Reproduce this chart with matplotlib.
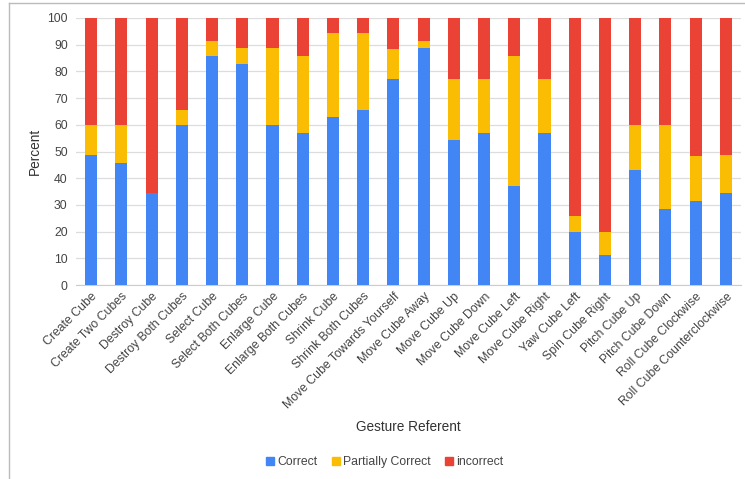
import matplotlib
matplotlib.use("Agg")
import matplotlib.pyplot as plt
import numpy as np
from matplotlib.lines import Line2D
from matplotlib.patches import Patch

categories = ["Create Cube", "Create Two Cubes", "Destroy Cube", "Destroy Both Cubes",
              "Select Cube", "Select Both Cubes", "Enlarge Cube", "Enlarge Both Cubes",
              "Shrink Cube", "Shrink Both Cubes", "Move Cube Towards Yourself",
              "Move Cube Away", "Move Cube Up", "Move Cube Down", "Move Cube Left",
              "Move Cube Right", "Yaw Cube Left", "Spin Cube Right", "Pitch Cube Up",
              "Pitch Cube Down", "Roll Cube Clockwise", "Roll Cube Counterclockwise"]
correct = [48.6, 45.7, 34.3, 60.0, 85.7, 82.9, 60.0, 57.1, 62.9, 65.7, 77.1,
           88.6, 54.3, 57.1, 37.1, 57.1, 20.0, 11.4, 42.9, 28.6, 31.4, 34.3]
partial = [11.4, 14.3, 0.0, 5.7, 5.7, 5.7, 28.6, 28.6, 31.4, 28.6, 11.4,
           2.9, 22.9, 20.0, 48.6, 20.0, 5.7, 8.6, 17.1, 31.4, 17.1, 14.3]
incorrect = [40.0, 40.0, 65.7, 34.3, 8.6, 11.4, 11.4, 14.3, 5.7, 5.7, 11.5,
             8.5, 22.8, 22.9, 14.3, 22.9, 74.3, 80.0, 40.0, 40.0, 51.5, 51.4]
series_names = ["Correct", "Partially Correct", "incorrect"]
yticks = [0, 10, 20, 30, 40, 50, 60, 70, 80, 90, 100]

colors = ["#4285F4", "#FBBC04", "#EA4335"]
plt.rcParams['font.family'] = ['Liberation Sans', 'DejaVu Sans']

fig = plt.figure(figsize=(7.45, 4.79), dpi=100)
ax = fig.add_axes([76/745, 1-285/479, (741-76)/745, (285-18)/479])

x = np.arange(len(categories))
c = np.array(correct); p = np.array(partial); r = np.array(incorrect)
w = 0.4
ax.bar(x, c, w, color=colors[0], zorder=3, label=series_names[0])
ax.bar(x, p, w, bottom=c, color=colors[1], zorder=3, label=series_names[1])
ax.bar(x, r, w, bottom=c + p, color=colors[2], zorder=3, label=series_names[2])

ax.set_xlim(-0.5, len(categories) - 0.5)
ax.set_ylim(0, 100)
ax.set_yticks(yticks)
ax.set_yticklabels([str(t) for t in yticks], fontsize=8.8, color="#444444")
ax.grid(axis='y', color="#dddddd", linewidth=0.9, zorder=0)
for s in ["top", "right", "left"]:
    ax.spines[s].set_visible(False)
ax.spines["bottom"].set_color("#cccccc")
ax.tick_params(axis='both', length=0, pad=6)
ax.set_xticks(x)
ax.set_xticklabels(categories, rotation=45, ha='right', rotation_mode='anchor',
                   fontsize=8.8, color="#444444")
ax.tick_params(axis='x', pad=4)
ax.set_ylabel("Percent", fontsize=9.8, color="#333333", labelpad=4)

fig.text(408/745, 1-427/479, "Gesture Referent", ha='center', va='center',
         fontsize=9.8, color="#333333")

handles = [Patch(color=col) for col in colors]
leg = fig.legend(handles, series_names, loc='center', bbox_to_anchor=(385/745, 1-462/479),
                 ncol=3, frameon=False, fontsize=8.8, handlelength=0.6, handleheight=0.6,
                 handletextpad=0.3, columnspacing=1.2)
for t in leg.get_texts():
    t.set_color("#444444")

fig.add_artist(Line2D([9/745, 9/745], [0, 1-3/479], color="#bbbbbb", linewidth=1))
fig.add_artist(Line2D([9/745, 1], [1-3/479, 1-3/479], color="#bbbbbb", linewidth=1))

fig.savefig("out.png", dpi=100)
